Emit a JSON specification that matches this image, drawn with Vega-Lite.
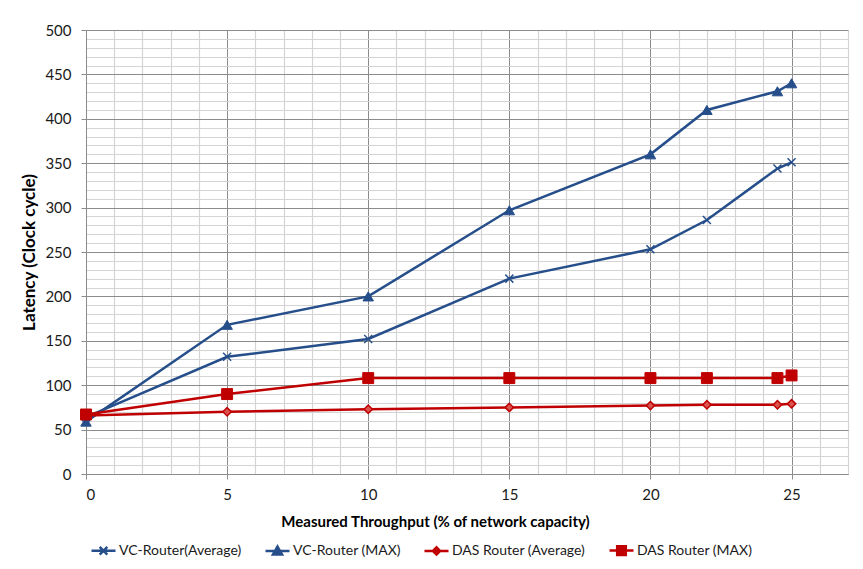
{
  "$schema": "https://vega.github.io/schema/vega-lite/v6.json",
  "autosize": {"type": "none"},
  "width": 762,
  "height": 444,
  "padding": {"left": 86, "top": 30, "right": 15, "bottom": 95},
  "background": "white",
  "config": {"view": {"stroke": null}, "font": "Lato"},
  "data": {"values": [
    {"x": 0, "y": 64, "series": "VC-Router(Average)"},
    {"x": 5, "y": 132, "series": "VC-Router(Average)"},
    {"x": 10, "y": 152, "series": "VC-Router(Average)"},
    {"x": 15, "y": 220, "series": "VC-Router(Average)"},
    {"x": 20, "y": 253, "series": "VC-Router(Average)"},
    {"x": 22, "y": 286, "series": "VC-Router(Average)"},
    {"x": 24.5, "y": 344, "series": "VC-Router(Average)"},
    {"x": 25, "y": 351, "series": "VC-Router(Average)"},
    {"x": 0, "y": 59, "series": "VC-Router (MAX)"},
    {"x": 5, "y": 168, "series": "VC-Router (MAX)"},
    {"x": 10, "y": 200, "series": "VC-Router (MAX)"},
    {"x": 15, "y": 297, "series": "VC-Router (MAX)"},
    {"x": 20, "y": 360, "series": "VC-Router (MAX)"},
    {"x": 22, "y": 410, "series": "VC-Router (MAX)"},
    {"x": 24.5, "y": 431, "series": "VC-Router (MAX)"},
    {"x": 25, "y": 440, "series": "VC-Router (MAX)"},
    {"x": 0, "y": 66, "series": "DAS Router (Average)"},
    {"x": 5, "y": 70, "series": "DAS Router (Average)"},
    {"x": 10, "y": 73, "series": "DAS Router (Average)"},
    {"x": 15, "y": 75, "series": "DAS Router (Average)"},
    {"x": 20, "y": 77, "series": "DAS Router (Average)"},
    {"x": 22, "y": 78, "series": "DAS Router (Average)"},
    {"x": 24.5, "y": 78, "series": "DAS Router (Average)"},
    {"x": 25, "y": 79, "series": "DAS Router (Average)"},
    {"x": 0, "y": 67, "series": "DAS Router (MAX)"},
    {"x": 5, "y": 90, "series": "DAS Router (MAX)"},
    {"x": 10, "y": 108, "series": "DAS Router (MAX)"},
    {"x": 15, "y": 108, "series": "DAS Router (MAX)"},
    {"x": 20, "y": 108, "series": "DAS Router (MAX)"},
    {"x": 22, "y": 108, "series": "DAS Router (MAX)"},
    {"x": 24.5, "y": 108, "series": "DAS Router (MAX)"},
    {"x": 25, "y": 111, "series": "DAS Router (MAX)"}
  ]},
  "resolve": {"axis": {"x": "independent", "y": "independent"}},
  "layer": [
    {
      "mark": {"type": "line", "strokeWidth": 2.5, "opacity": 0},
      "encoding": {
        "x": {"field": "x", "type": "quantitative", "scale": {"domain": [0, 27], "nice": false, "zero": false},
          "axis": {"orient": "bottom", "values": [1,2,3,4,6,7,8,9,11,12,13,14,16,17,18,19,21,22,23,24,26,27], "grid": true, "gridColor": "#d4d4d4", "gridWidth": 1.2, "labels": false, "ticks": false, "domain": false, "title": null}},
        "y": {"field": "y", "type": "quantitative", "scale": {"domain": [0, 500], "nice": false},
          "axis": {"orient": "left", "values": [10,20,30,40,60,70,80,90,110,120,130,140,160,170,180,190,210,220,230,240,260,270,280,290,310,320,330,340,360,370,380,390,410,420,430,440,460,470,480,490], "grid": true, "gridColor": "#d4d4d4", "gridWidth": 1.2, "labels": false, "ticks": false, "domain": false, "title": null}},
        "detail": {"field": "series"}
      }
    },
    {
      "mark": {"type": "line", "strokeWidth": 2.5},
      "encoding": {
        "x": {"field": "x", "type": "quantitative",
          "axis": {"orient": "bottom", "values": [0,5,10,15,20,25], "grid": true, "gridColor": "#8c8c8c", "gridWidth": 1, "domainColor": "#8c8c8c", "tickColor": "#8c8c8c", "tickSize": 5, "labelPadding": 8, "labelFont": "Lato", "labelFontSize": 15, "labelColor": "#1a1a1a",
            "title": "Measured Throughput (% of network capacity)", "titleFont": "Lato", "titleFontSize": 15, "titleFontWeight": "bold", "titleColor": "#000000", "titleX": 349, "titleY": 47, "titleBaseline": "middle", "titleAlign": "center"}},
        "y": {"field": "y", "type": "quantitative",
          "axis": {"orient": "left", "values": [0,50,100,150,200,250,300,350,400,450,500], "grid": true, "gridColor": "#8c8c8c", "gridWidth": 1, "domainColor": "#8c8c8c", "tickColor": "#8c8c8c", "tickSize": 5, "labelPadding": 10, "labelFont": "Lato", "labelFontSize": 15, "labelColor": "#1a1a1a",
            "title": "Latency (Clock cycle)", "titleFont": "Lato", "titleFontSize": 17, "titleFontWeight": "bold", "titleColor": "#000000", "titleX": -57, "titleY": 222, "titleBaseline": "middle", "titleAlign": "center", "titleAngle": -90}},
        "color": {"field": "series", "type": "nominal",
          "scale": {"domain": ["VC-Router(Average)", "VC-Router (MAX)", "DAS Router (Average)", "DAS Router (MAX)"], "range": ["#254E8A", "#254E8A", "#C00000", "#C00000"]},
          "legend": {"orient": "none", "legendX": 4, "legendY": 507, "direction": "horizontal", "title": null, "padding": 0,
            "symbolSize": 576, "symbolStrokeWidth": 2.5, "labelFont": "Lato", "labelFontSize": 14, "labelColor": "#1a1a1a", "labelOffset": 2, "columnPadding": 18,
            "encode": {"symbols": {"update": {
              "shape": {"signal": "datum.value === 'VC-Router(Average)' ? 'M-1,0H1M-0.32,-0.32L0.32,0.32M-0.32,0.32L0.32,-0.32' : datum.value === 'VC-Router (MAX)' ? 'M-1,0H1M0,-0.38L0.38,0.28L-0.38,0.28Z' : datum.value === 'DAS Router (Average)' ? 'M-1,0H1M0,-0.3L0.3,0L0,0.3L-0.3,0Z' : 'M-1,0H1M-0.36,-0.36H0.36V0.36H-0.36Z'"},
              "fill": {"signal": "datum.value === 'DAS Router (Average)' ? '#D9534F' : (indexof(datum.value, 'DAS') >= 0 ? '#C00000' : '#254E8A')"}
            }}}}
        }
      }
    },
    {
      "transform": [{"filter": "datum.series === 'VC-Router(Average)'"}],
      "mark": {"type": "point", "shape": "M-1,-1L1,1M-1,1L1,-1", "size": 64, "filled": false, "stroke": "#254E8A", "strokeWidth": 1.5, "opacity": 1},
      "encoding": {"x": {"field": "x", "type": "quantitative", "axis": null}, "y": {"field": "y", "type": "quantitative", "axis": null}}
    },
    {
      "transform": [{"filter": "datum.series === 'VC-Router (MAX)'"}],
      "mark": {"type": "point", "shape": "triangle-up", "size": 110, "filled": true, "fill": "#254E8A", "stroke": "#254E8A", "strokeWidth": 1, "opacity": 1},
      "encoding": {"x": {"field": "x", "type": "quantitative", "axis": null}, "y": {"field": "y", "type": "quantitative", "axis": null}}
    },
    {
      "transform": [{"filter": "datum.series === 'DAS Router (Average)'"}],
      "mark": {"type": "point", "shape": "diamond", "size": 70, "filled": true, "fill": "#D9534F", "stroke": "#C00000", "strokeWidth": 1.5, "opacity": 1},
      "encoding": {"x": {"field": "x", "type": "quantitative", "axis": null}, "y": {"field": "y", "type": "quantitative", "axis": null}}
    },
    {
      "transform": [{"filter": "datum.series === 'DAS Router (MAX)'"}],
      "mark": {"type": "point", "shape": "square", "size": 120, "filled": true, "fill": "#C00000", "stroke": "#C00000", "strokeWidth": 1, "opacity": 1},
      "encoding": {"x": {"field": "x", "type": "quantitative", "axis": null}, "y": {"field": "y", "type": "quantitative", "axis": null}}
    }
  ]
}
